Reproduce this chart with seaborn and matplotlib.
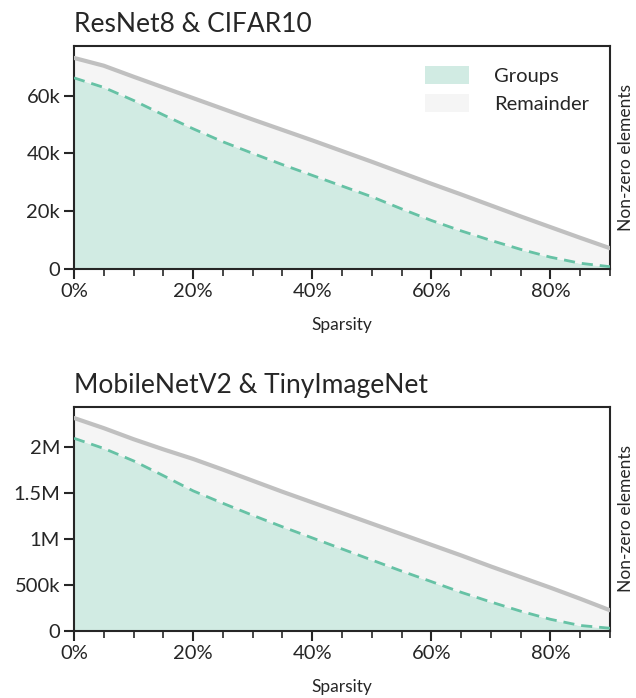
import numpy as np
import pandas as pd
import matplotlib
matplotlib.use("Agg")
import matplotlib.pyplot as plt
import seaborn as sns
from matplotlib.ticker import FuncFormatter, MultipleLocator
from matplotlib.patches import Patch

sparsity = [0, 5, 10, 15, 20, 25, 30, 35, 40, 45, 50, 55, 60, 65, 70, 75, 80, 85, 90]

resnet_total = [73.0, 70.3, 66.5, 62.8, 59.1, 55.4, 51.7, 48.1, 44.5, 40.8, 37.1, 33.3,
                29.5, 25.8, 22.0, 18.2, 14.5, 10.8, 7.2]  # thousands
resnet_groups = [66.1, 62.8, 58.3, 53.3, 48.5, 44.0, 40.0, 36.1, 32.4, 28.7, 25.0, 20.8,
                 16.8, 13.2, 9.9, 6.8, 4.1, 2.0, 0.8]  # thousands

mobile_total = [2.31, 2.20, 2.08, 1.97, 1.866, 1.75, 1.63, 1.51, 1.395, 1.28, 1.165, 1.05,
                0.935, 0.82, 0.70, 0.585, 0.47, 0.35, 0.225]  # millions
mobile_groups = [2.09, 1.98, 1.845, 1.685, 1.52, 1.385, 1.255, 1.13, 1.01, 0.89, 0.77, 0.65,
                 0.536, 0.42, 0.315, 0.215, 0.127, 0.06, 0.03]  # millions

titles = ["ResNet8 & CIFAR10", "MobileNetV2 & TinyImageNet"]
legend_labels = ["Groups", "Remainder"]

sns.set_style("ticks")
plt.rcParams['font.family'] = ['Lato', 'DejaVu Sans']

GREEN = "#66c2a5"
FILL_GREEN = "#d1ebe3"
FILL_GRAY = "#f5f5f5"
LINE_GRAY = "#c0c0c0"

fig = plt.figure(figsize=(6.36, 6.98), dpi=100)
ax1 = fig.add_axes([0.1164, 0.6146, 0.9590 - 0.1164, 0.934 - 0.6146])
ax2 = fig.add_axes([0.1164, 0.096, 0.9590 - 0.1164, 0.417 - 0.096])


def fmt_k(v, pos):
    if v == 0:
        return "0"
    return f"{int(round(v / 1000))}k"


def fmt_m(v, pos):
    if v == 0:
        return "0"
    if v >= 1e6:
        m = v / 1e6
        return f"{m:g}M"
    return f"{int(round(v / 1000))}k"


def draw(ax, total, groups, scale, title, fmt, ymax, ystep):
    x = np.array(sparsity) / 100.0
    t = np.array(total) * scale
    g = np.array(groups) * scale
    df = pd.DataFrame({"x": x, "total": t, "groups": g})
    ax.fill_between(df["x"], 0, df["groups"], color=FILL_GREEN, lw=0, zorder=1)
    ax.fill_between(df["x"], df["groups"], df["total"], color=FILL_GRAY, lw=0, zorder=1)
    sns.lineplot(data=df, x="x", y="total", ax=ax, color=LINE_GRAY, lw=3, zorder=3)
    sns.lineplot(data=df, x="x", y="groups", ax=ax, color=GREEN, lw=2, ls=(0, (4, 2.5)), zorder=3)
    ax.set_xlim(0, 0.9)
    ax.set_ylim(0, ymax)
    ax.xaxis.set_major_locator(MultipleLocator(0.2))
    ax.xaxis.set_minor_locator(MultipleLocator(0.05))
    ax.xaxis.set_major_formatter(FuncFormatter(lambda v, p: f"{int(round(v * 100))}%"))
    ax.yaxis.set_major_locator(MultipleLocator(ystep))
    ax.yaxis.set_major_formatter(FuncFormatter(fmt))
    ax.tick_params(axis="both", which="major", labelsize=14.5, length=7, width=1.5,
                   direction="out", pad=3)
    ax.tick_params(axis="x", which="minor", length=5, width=1.2)
    for sp in ax.spines.values():
        sp.set_linewidth(1.5)
    ax.set_xlabel("Sparsity", fontsize=12.5, labelpad=12)
    ax.set_ylabel("Non-zero elements", fontsize=12.5, labelpad=6)
    ax.yaxis.set_label_position("right")
    ax.set_title(title, loc="left", fontsize=19, pad=10)


draw(ax1, resnet_total, resnet_groups, 1000, titles[0], fmt_k, 77100, 20000)
draw(ax2, mobile_total, mobile_groups, 1e6, titles[1], fmt_m, 2.43e6, 500000)

handles = [Patch(facecolor=FILL_GREEN, edgecolor="none"),
           Patch(facecolor=FILL_GRAY, edgecolor="none")]
ax1.legend(handles, legend_labels, loc="upper right", frameon=False, fontsize=14.5,
           handlelength=2.2, handleheight=1.0, borderaxespad=0.5, labelspacing=0.45,
           handletextpad=1.25, bbox_to_anchor=(0.995, 0.99))

fig.savefig("out.png", dpi=100)
